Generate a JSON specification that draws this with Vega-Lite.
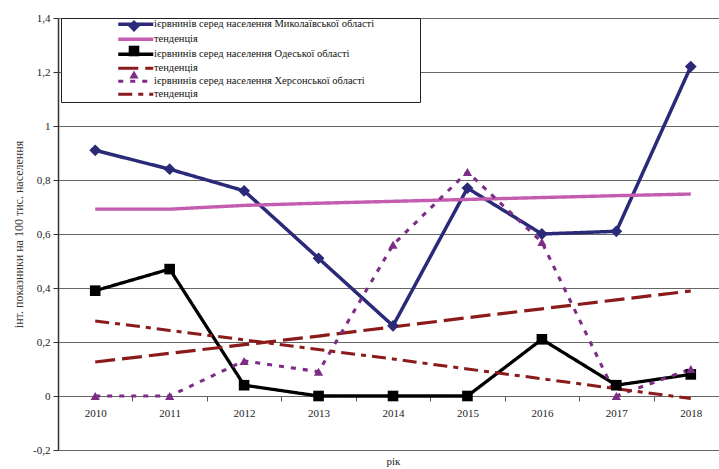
{
  "$schema": "https://vega.github.io/schema/vega-lite/v6.json",
  "autosize": {"type": "none"},
  "width": 661,
  "height": 432,
  "padding": {"left": 58, "top": 18, "right": 0, "bottom": 19},
  "background": "white",
  "config": {
    "view": {"stroke": null},
    "font": "Liberation Serif"
  },
  "data": {
    "values": [
      {"year": "2010", "series": "ієрвнинів серед населення Миколаївської області", "value": 0.91},
      {"year": "2011", "series": "ієрвнинів серед населення Миколаївської області", "value": 0.84},
      {"year": "2012", "series": "ієрвнинів серед населення Миколаївської області", "value": 0.76},
      {"year": "2013", "series": "ієрвнинів серед населення Миколаївської області", "value": 0.51},
      {"year": "2014", "series": "ієрвнинів серед населення Миколаївської області", "value": 0.26},
      {"year": "2015", "series": "ієрвнинів серед населення Миколаївської області", "value": 0.77},
      {"year": "2016", "series": "ієрвнинів серед населення Миколаївської області", "value": 0.60},
      {"year": "2017", "series": "ієрвнинів серед населення Миколаївської області", "value": 0.61},
      {"year": "2018", "series": "ієрвнинів серед населення Миколаївської області", "value": 1.22},
      {"year": "2010", "series": "тенденція 1", "value": 0.692},
      {"year": "2011", "series": "тенденція 1", "value": 0.692},
      {"year": "2012", "series": "тенденція 1", "value": 0.706},
      {"year": "2013", "series": "тенденція 1", "value": 0.714},
      {"year": "2014", "series": "тенденція 1", "value": 0.721},
      {"year": "2015", "series": "тенденція 1", "value": 0.728},
      {"year": "2016", "series": "тенденція 1", "value": 0.735},
      {"year": "2017", "series": "тенденція 1", "value": 0.742},
      {"year": "2018", "series": "тенденція 1", "value": 0.748},
      {"year": "2010", "series": "ієрвнинів серед населення Одеської області", "value": 0.39},
      {"year": "2011", "series": "ієрвнинів серед населення Одеської області", "value": 0.47},
      {"year": "2012", "series": "ієрвнинів серед населення Одеської області", "value": 0.04},
      {"year": "2013", "series": "ієрвнинів серед населення Одеської області", "value": 0},
      {"year": "2014", "series": "ієрвнинів серед населення Одеської області", "value": 0},
      {"year": "2015", "series": "ієрвнинів серед населення Одеської області", "value": 0},
      {"year": "2016", "series": "ієрвнинів серед населення Одеської області", "value": 0.21},
      {"year": "2017", "series": "ієрвнинів серед населення Одеської області", "value": 0.04},
      {"year": "2018", "series": "ієрвнинів серед населення Одеської області", "value": 0.08},
      {"year": "2010", "series": "тенденція 2", "value": 0.126},
      {"year": "2011", "series": "тенденція 2", "value": 0.158},
      {"year": "2012", "series": "тенденція 2", "value": 0.19},
      {"year": "2013", "series": "тенденція 2", "value": 0.222},
      {"year": "2014", "series": "тенденція 2", "value": 0.256},
      {"year": "2015", "series": "тенденція 2", "value": 0.29},
      {"year": "2016", "series": "тенденція 2", "value": 0.323},
      {"year": "2017", "series": "тенденція 2", "value": 0.356},
      {"year": "2018", "series": "тенденція 2", "value": 0.389},
      {"year": "2010", "series": "ієрвнинів серед населення Херсонської області", "value": 0},
      {"year": "2011", "series": "ієрвнинів серед населення Херсонської області", "value": 0},
      {"year": "2012", "series": "ієрвнинів серед населення Херсонської області", "value": 0.13},
      {"year": "2013", "series": "ієрвнинів серед населення Херсонської області", "value": 0.09},
      {"year": "2014", "series": "ієрвнинів серед населення Херсонської області", "value": 0.56},
      {"year": "2015", "series": "ієрвнинів серед населення Херсонської області", "value": 0.83},
      {"year": "2016", "series": "ієрвнинів серед населення Херсонської області", "value": 0.57},
      {"year": "2017", "series": "ієрвнинів серед населення Херсонської області", "value": 0},
      {"year": "2018", "series": "ієрвнинів серед населення Херсонської області", "value": 0.10},
      {"year": "2010", "series": "тенденція 3", "value": 0.278},
      {"year": "2011", "series": "тенденція 3", "value": 0.243},
      {"year": "2012", "series": "тенденція 3", "value": 0.208},
      {"year": "2013", "series": "тенденція 3", "value": 0.172},
      {"year": "2014", "series": "тенденція 3", "value": 0.137},
      {"year": "2015", "series": "тенденція 3", "value": 0.1},
      {"year": "2016", "series": "тенденція 3", "value": 0.064},
      {"year": "2017", "series": "тенденція 3", "value": 0.027},
      {"year": "2018", "series": "тенденція 3", "value": -0.009}
    ]
  },
  "encoding": {
    "x": {
      "field": "year",
      "type": "ordinal",
      "scale": {"type": "band", "range": [0, 670], "paddingInner": 0, "paddingOuter": 0},
      "axis": {
        "title": "рік",
        "offset": -54,
        "labelAngle": 0,
        "tickBand": "extent",
        "tickSize": 5,
        "tickColor": "#555",
        "domainColor": "#666",
        "labelFont": "Liberation Serif",
        "labelFontSize": 11,
        "labelColor": "#222",
        "labelPadding": 6,
        "titleFont": "Liberation Serif",
        "titleFontSize": 11,
        "titleFontWeight": "normal",
        "titleColor": "#222",
        "titlePadding": 37
      }
    },
    "y": {
      "field": "value",
      "type": "quantitative",
      "scale": {"domain": [-0.2, 1.4], "nice": false, "zero": false},
      "axis": {
        "title": "інт. показники на 100 тис. населення",
        "values": [-0.2, 0, 0.2, 0.4, 0.6, 0.8, 1, 1.2, 1.4],
        "labelExpr": "replace(replace(format(datum.value, '~g'), '.', ','), '\u2212', '-')",
        "grid": true,
        "gridColor": "#666",
        "gridWidth": 1,
        "tickSize": 5,
        "tickColor": "#333",
        "domainColor": "#333",
        "domainWidth": 1.5,
        "labelFont": "Liberation Serif",
        "labelFontSize": 11,
        "labelColor": "#222",
        "labelPadding": 3,
        "titleFont": "Liberation Serif",
        "titleFontSize": 12,
        "titleFontWeight": "normal",
        "titleColor": "#333",
        "titlePadding": 7
      }
    }
  },
  "layer": [
    {
      "mark": {"type": "line", "strokeCap": "butt", "strokeJoin": "miter"},
      "encoding": {
        "color": {
          "field": "series",
          "type": "nominal",
          "scale": {
            "domain": [
              "ієрвнинів серед населення Миколаївської області",
              "тенденція 1",
              "ієрвнинів серед населення Одеської області",
              "тенденція 2",
              "ієрвнинів серед населення Херсонської області",
              "тенденція 3"
            ],
            "range": ["#2A2A78", "#C45CAF", "#000000", "#8B1A1A", "#7D2D86", "#8B1A1A"]
          },
          "legend": {
            "orient": "none",
            "legendX": 3,
            "legendY": 0,
            "title": "\u00a0",
            "titleOrient": "right",
            "titlePadding": 45,
            "symbolType": "M-7,0H7",
            "symbolSize": 25,
            "symbolOffset": 68.5,
            "labelOffset": 13,
            "labelFont": "Liberation Serif",
            "labelFontSize": 10.5,
            "labelColor": "#111",
            "labelLimit": 400,
            "labelExpr": "indexof(datum.label, 'тенденція') === 0 ? 'тенденція' : datum.label",
            "rowPadding": 0,
            "padding": 1,
            "strokeColor": "#222",
            "fillColor": "white"
          }
        },
        "strokeDash": {
          "field": "series",
          "type": "nominal",
          "scale": {
            "domain": [
              "ієрвнинів серед населення Миколаївської області",
              "тенденція 1",
              "ієрвнинів серед населення Одеської області",
              "тенденція 2",
              "ієрвнинів серед населення Херсонської області",
              "тенденція 3"
            ],
            "range": [[1, 0], [1, 0], [1, 0], [20, 7], [5, 7], [14, 6, 5, 6]]
          }
        },
        "strokeWidth": {
          "field": "series",
          "type": "nominal",
          "scale": {
            "domain": [
              "ієрвнинів серед населення Миколаївської області",
              "тенденція 1",
              "ієрвнинів серед населення Одеської області",
              "тенденція 2",
              "ієрвнинів серед населення Херсонської області",
              "тенденція 3"
            ],
            "range": [3.5, 3, 3.5, 3.2, 2.5, 2.5]
          }
        }
      }
    },
    {
      "transform": [
        {"filter": "indexof(datum.series, 'тенденція') < 0"}
      ],
      "mark": {"type": "point", "filled": true, "opacity": 1, "strokeWidth": 0},
      "encoding": {
        "shape": {
          "field": "series",
          "type": "nominal",
          "scale": {
            "domain": [
              "ієрвнинів серед населення Миколаївської області",
              "ієрвнинів серед населення Одеської області",
              "ієрвнинів серед населення Херсонської області"
            ],
            "range": ["diamond", "square", "triangle-up"]
          },
          "legend": {
            "orient": "none",
            "legendX": 69,
            "legendY": 1,
            "title": null,
            "labelExpr": "''",
            "rowPadding": 7.5,
            "padding": 0
          }
        },
        "fill": {
          "field": "series",
          "type": "nominal",
          "scale": {
            "domain": [
              "ієрвнинів серед населення Миколаївської області",
              "ієрвнинів серед населення Одеської області",
              "ієрвнинів серед населення Херсонської області"
            ],
            "range": ["#2A2A78", "#000000", "#7D2D86"]
          }
        },
        "size": {
          "field": "series",
          "type": "nominal",
          "scale": {
            "domain": [
              "ієрвнинів серед населення Миколаївської області",
              "ієрвнинів серед населення Одеської області",
              "ієрвнинів серед населення Херсонської області"
            ],
            "range": [140, 85, 220]
          }
        }
      }
    }
  ]
}
